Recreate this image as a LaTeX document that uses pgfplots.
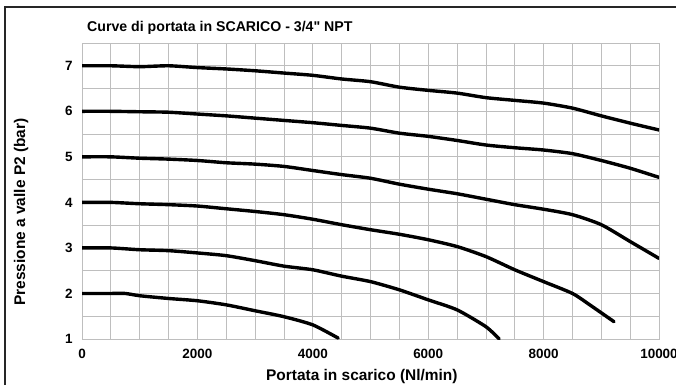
\documentclass[border=0pt]{standalone}
\usepackage{fontspec}
\setmainfont{Liberation Sans}[BoldFont={Liberation Sans Bold}]
\newfontfamily\rawfont{Liberation Sans}[BoldFont={Liberation Sans Bold}]
\usepackage{pgfplots}
\pgfplotsset{compat=1.18}
\definecolor{gridgray}{RGB}{190,190,190}
\pgfplotsset{curve/.style={black, line width=3.4bp, line cap=round, line join=round, smooth, tension=0.4}}
\begin{document}
\begin{tikzpicture}[x=1bp,y=1bp]
\useasboundingbox (0,0) rectangle (676,385);
\draw[line width=1.2bp,black!85] (5,0) -- (5,378) -- (676,378);
\node[anchor=west,inner sep=0pt,font=\bfseries\fontsize{14.2}{16}\selectfont] at (87,357) {Curve di portata in SCARICO - 3/4{\rawfont\bfseries "} NPT};
\begin{axis}[
  at={(82bp,46bp)}, anchor=south west,
  scale only axis, width=577bp, height=296bp,
  xmin=0, xmax=10000, ymin=1, ymax=7.5,
  xtick={0,2000,...,10000}, minor xtick={0,500,...,10000},
  ytick={1,...,7}, minor ytick={1,1.5,...,7.5},
  grid=both,
  major grid style={gridgray, line width=0.8bp},
  minor grid style={gridgray, line width=0.8bp},
  axis line style={gridgray, line width=0.8bp},
  major tick length=0pt, minor tick length=0pt,
  scaled x ticks=false,
  /pgf/number format/assume math mode=true,
  /pgf/number format/1000 sep={},
  tick label style={font=\bfseries\fontsize{13.5}{15}\selectfont},
  yticklabel style={xshift=-6bp},
  xticklabel style={yshift=-7bp},
  xlabel={Portata in scarico (Nl/min)},
  ylabel={Pressione a valle P2 (bar)},
  label style={font=\bfseries\fontsize{15.5}{17}\selectfont},
  xlabel style={at={(axis description cs:0.485,-0.128)}, anchor=center},
  ylabel style={at={(axis description cs:-0.1057,0.429)}, anchor=center},
]
\addplot[curve] coordinates {(0,7.0)(500,7.0)(1000,6.98)(1500,7.0)(2000,6.96)(2500,6.93)(3000,6.89)(3500,6.84)(4000,6.79)(4500,6.71)(5000,6.65)(5500,6.53)(6000,6.46)(6500,6.40)(7000,6.30)(7500,6.24)(8000,6.18)(8500,6.07)(9000,5.90)(9500,5.74)(10000,5.59)};
\addplot[curve] coordinates {(0,6.0)(500,6.0)(1000,5.99)(1500,5.98)(2000,5.94)(2500,5.90)(3000,5.85)(3500,5.80)(4000,5.75)(4500,5.69)(5000,5.63)(5500,5.52)(6000,5.45)(6500,5.36)(7000,5.26)(7500,5.20)(8000,5.15)(8500,5.07)(9000,4.92)(9500,4.75)(10000,4.55)};
\addplot[curve] coordinates {(0,5.0)(500,5.0)(1000,4.97)(1500,4.95)(2000,4.92)(2500,4.87)(3000,4.84)(3500,4.79)(4000,4.70)(4500,4.61)(5000,4.53)(5500,4.40)(6000,4.29)(6500,4.19)(7000,4.07)(7500,3.95)(8000,3.85)(8500,3.73)(9000,3.51)(9500,3.14)(10000,2.77)};
\addplot[curve] coordinates {(0,4.0)(500,4.0)(1000,3.97)(1500,3.95)(2000,3.92)(2500,3.86)(3000,3.80)(3500,3.73)(4000,3.63)(4500,3.51)(5000,3.40)(5500,3.30)(6000,3.18)(6500,3.03)(7000,2.81)(7500,2.52)(8000,2.26)(8500,2.00)(8800,1.75)(9220,1.38)};
\addplot[curve] coordinates {(0,3.0)(500,3.0)(1000,2.96)(1500,2.94)(2000,2.89)(2500,2.83)(3000,2.72)(3500,2.60)(4000,2.52)(4500,2.38)(5000,2.26)(5500,2.08)(6000,1.86)(6500,1.64)(7000,1.27)(7230,1.0)};
\addplot[curve] coordinates {(0,2.0)(500,2.0)(750,2.0)(1000,1.95)(1500,1.89)(2000,1.84)(2500,1.75)(3000,1.62)(3500,1.49)(4000,1.31)(4440,1.02)};
\end{axis}
\end{tikzpicture}
\end{document}
